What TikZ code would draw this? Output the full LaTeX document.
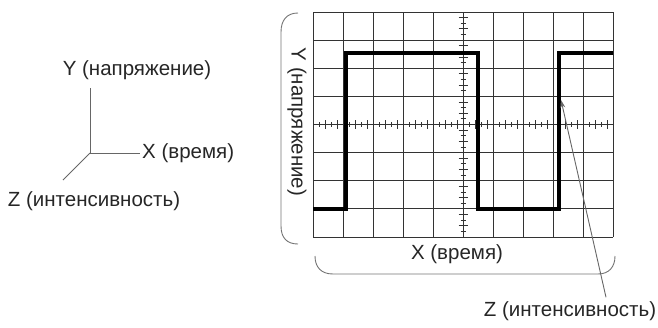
\documentclass[tikz,border=0pt]{standalone}
\usepackage{fontspec}
\setmainfont{Liberation Sans}
\usetikzlibrary{arrows.meta}
\tikzstyle{lbl}=[inner sep=1pt, font=\fontsize{20.5}{23}\selectfont, text=black!85]
\tikzstyle{grd}=[draw=black!80, line width=0.9pt]
\tikzstyle{tck}=[draw=black!80, line width=0.8pt]
\tikzstyle{brace}=[draw=black!55, line width=0.9pt]
\tikzstyle{wave}=[draw=black, line width=3.2pt, line join=miter]
\tikzstyle{axis}=[draw=black!60, line width=0.9pt]
\newcommand{\lbl}{\node[lbl]}

\begin{document}
\begin{tikzpicture}[x=1pt, y=-1pt]
\useasboundingbox (0,0) rectangle (658,327);
% axes on the left
\coordinate (o) at (90,153);
\coordinate (ytop) at (90,88);
\coordinate (xend) at (140,153);
\coordinate (zend) at (63,180);
\lbl (ylab) at (137,70) {Y (напряжение)};
\lbl (xlab) at (141,153) [anchor=west] {X (время)};
\lbl (zlab) at (94,201) {Z (интенсивность)};
\path[axis] (o) edge (ytop) edge (xend) edge (zend);
% screen grid
\foreach \i in {0,...,10}
  \draw[grd] (313+30*\i,12) -- (313+30*\i,237);
\foreach \j in {0,...,8}
  \draw[grd] (313,12+28.125*\j) -- (613,12+28.125*\j);
\foreach \d in {0,...,9}
  \foreach \s/\h in {1/2.5,2/4.5,3/2.5,4/4.5}
    \draw[tck] (313+30*\d+6*\s,124.5-\h) -- (313+30*\d+6*\s,124.5+\h);
\foreach \d in {0,...,7}
  \foreach \s/\h in {1/4.5,2/2.5,3/4.5,4/2.5}
    \draw[tck] (463-\h,12+28.125*\d+5.625*\s) -- (463+\h,12+28.125*\d+5.625*\s);
% signal
\draw[wave] (313,209) -- (346,209) -- (346,53) -- (478,53) -- (478,209)
  -- (559,209) -- (559,53) -- (613,53);
% brackets
\draw[brace] (298,13) .. controls (287,13) and (281,20) .. (281,32)
  -- (281,226) .. controls (281,238) and (287,244) .. (298,244);
\draw[brace] (315,256) .. controls (315,267) and (321,274) .. (333,274)
  -- (598,274) .. controls (609,274) and (615,267) .. (615,256);
\lbl (ylab2) at (297,122) [rotate=-90] {Y (напряжение)};
\lbl (xlab2) at (457,254) {X (время)};
\lbl (zlab2) at (570,311) {Z (интенсивность)};
% pointer to the trace
\coordinate (ztip) at (561,100);
\draw[axis, -{Stealth[length=8pt, width=5pt]}] (zlab2.north) ++(36,-3) -- (ztip);
\end{tikzpicture}
\end{document}
